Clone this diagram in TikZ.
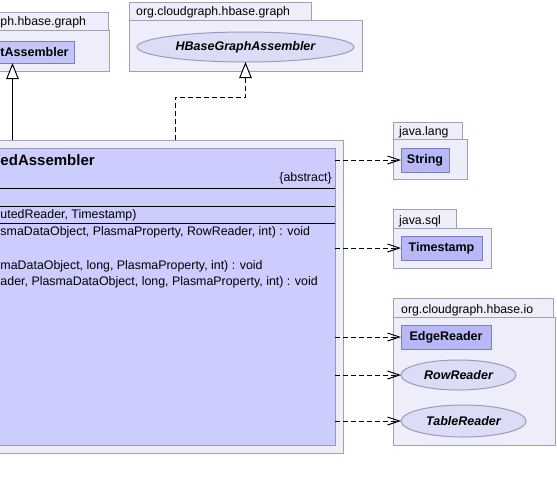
\documentclass[tikz,border=0pt]{standalone}
\usepackage{fontspec}
\setmainfont{Liberation Sans}
\usetikzlibrary{arrows.meta,shapes.geometric}
\definecolor{pkgfill}{HTML}{EEEEFA}
\definecolor{pkgline}{HTML}{A0A0B4}
\definecolor{mainfill}{HTML}{CCCCFF}
\definecolor{mainline}{HTML}{9898B0}
\definecolor{clsfill}{HTML}{B8B8F8}
\definecolor{lclsfill}{HTML}{C4C4F8}
\definecolor{clsline}{HTML}{7E7EBE}
\definecolor{ifill}{HTML}{DCDCF6}
\definecolor{iline}{HTML}{9A9AC0}
\begin{document}
\begin{tikzpicture}[x=1pt,y=-1pt,
  pkgbox/.style={draw=pkgline,fill=pkgfill,line width=1pt,inner sep=0pt,outer sep=0pt,anchor=north west},
  clsbox/.style={draw=clsline,fill=clsfill,line width=1pt,inner sep=0pt,outer sep=0pt,anchor=north west,
                 font=\bfseries\fontsize{12.5}{14}\selectfont},
  ifbox/.style={ellipse,draw=iline,fill=ifill,line width=1pt,inner sep=0pt,outer sep=0pt,
                font=\bfseries\itshape\fontsize{12.5}{14}\selectfont},
  pkglabel/.style={anchor=base west,inner sep=0pt,font=\fontsize{12.3}{14}\selectfont},
  member/.style={anchor=base west,inner sep=0pt,font=\fontsize{12.4}{14}\selectfont},
  dep/.style={line width=1pt,dash pattern=on 5pt off 3pt,-{Straight Barb[length=12pt,width=8pt]}},
  gen/.style={line width=1pt,-{Triangle[fill=white,length=16pt,width=12.5pt]}}
]
\useasboundingbox (0,0) rectangle (557,491);

% left package
\node[pkgbox,minimum width=158pt,minimum height=18pt] (lpkgtab) at (-50,12) {};
\node[pkgbox,minimum width=159pt,minimum height=41pt] (lpkg) at (-50,30) {};
\node[pkglabel,anchor=base west] (lpkglabel) at (0.3,25.7) {ph.hbase.graph};
\node[clsbox,fill=lclsfill,minimum width=123pt,minimum height=22pt] (lcls) at (-49,41) {};
\node[anchor=west,inner sep=0pt,font=\bfseries\fontsize{12.5}{14}\selectfont] (lclsname) at (0.3,52) {tAssembler};

% middle package
\node[pkgbox,minimum width=182pt,minimum height=17.5pt] (mpkgtab) at (129,2.5) {};
\node[pkgbox,minimum width=233pt,minimum height=51pt] (midpkg) at (129,20) {};
\node[pkglabel] (midlabel) at (136,15.7) {org.cloudgraph.hbase.graph};
\node[ifbox,minimum width=217pt,minimum height=30pt] (hbga) at (245.5,47) {HBaseGraphAssembler};

% main package and class
\node[pkgbox,minimum width=393pt,minimum height=313pt] (mainpkg) at (-50,140) {};
\node[draw=mainline,fill=mainfill,line width=1pt,inner sep=0pt,outer sep=0pt,anchor=north west,
      minimum width=385pt,minimum height=297pt] (mcls) at (-50,148) {};
\node[anchor=base west,inner sep=0pt,font=\bfseries\fontsize{15}{18}\selectfont] (mtitle) at (0.3,165.7) {edAssembler};
\node[member,anchor=base east] (mabs) at (332,181.5) {\{abstract\}};
\draw[line width=1pt] (-50,188) -- (335,188);
\draw[line width=1pt] (-50,206) -- (335,206);
\draw[line width=1pt] (-50,223) -- (335,223);
\node[member] (mctor) at (0.3,218.5) {utedReader, Timestamp)};
\node[member] (mm1) at (0.3,235.7) {smaDataObject, PlasmaProperty, RowReader, int) : void};
\node[member] (mm2) at (0.3,269) {maDataObject, long, PlasmaProperty, int) : void};
\node[member] (mm3) at (0.3,285.7) {ader, PlasmaDataObject, long, PlasmaProperty, int) : void};

% java.lang
\node[pkgbox,minimum width=69pt,minimum height=17pt] (langtab) at (393,122) {};
\node[pkgbox,minimum width=74pt,minimum height=40pt] (langpkg) at (393,139) {};
\node[pkglabel] (langlabel) at (399,135) {java.lang};
\node[clsbox,minimum width=48pt,minimum height=24pt] (str) at (401,148) {String};

% java.sql
\node[pkgbox,minimum width=63pt,minimum height=19pt] (sqltab) at (393,209) {};
\node[pkgbox,minimum width=98pt,minimum height=40pt] (sqlpkg) at (393,228) {};
\node[pkglabel] (sqllabel) at (399,224) {java.sql};
\node[clsbox,minimum width=81pt,minimum height=24pt] (ts) at (401,236) {Timestamp};

% org.cloudgraph.hbase.io
\node[pkgbox,minimum width=160pt,minimum height=19pt] (iotab) at (393,298) {};
\node[pkgbox,minimum width=162pt,minimum height=128pt] (iopkg) at (393,317) {};
\node[pkglabel] (iolabel) at (401,313) {org.cloudgraph.hbase.io};
\node[clsbox,minimum width=90pt,minimum height=24pt] (edge) at (401,325) {EdgeReader};
\node[ifbox,minimum width=115pt,minimum height=30pt] (row) at (458.5,375) {RowReader};
\node[ifbox,minimum width=125pt,minimum height=32pt] (table) at (463.5,421) {TableReader};

% connectors
\coordinate (g0) at (12.5,140);
\draw[gen] (g0) -- (lcls.south);
\coordinate (g1) at (175,140);
\draw[gen,dash pattern=on 5pt off 3pt] (g1) -- ++(0,-43) -| (hbga.south);

\draw[dep] (mcls.east |- str.west) -- (str.west);
\draw[dep] (mcls.east |- ts.west) -- (ts.west);
\draw[dep] (mcls.east |- edge.west) -- (edge.west);
\draw[dep] (mcls.east |- row.west) -- (row.west);
\draw[dep] (mcls.east |- table.west) -- (table.west);
\end{tikzpicture}
\end{document}
